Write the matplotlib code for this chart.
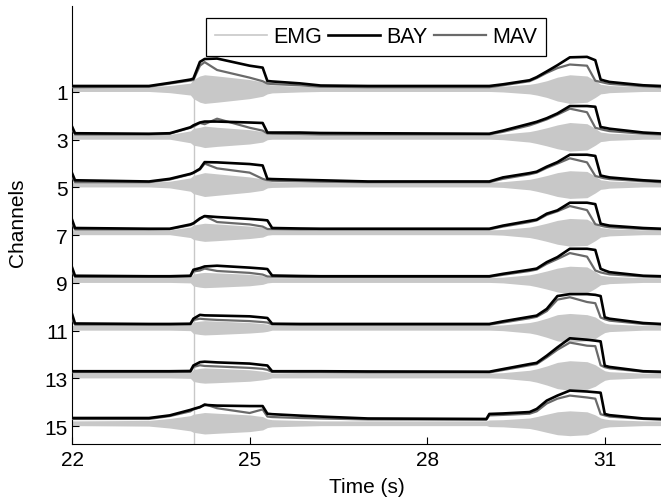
import matplotlib
matplotlib.use("Agg")
import matplotlib.pyplot as plt
from matplotlib.lines import Line2D

plt.rcParams["font.family"] = ["Liberation Sans", "DejaVu Sans"]

channels = [1, 3, 5, 7, 9, 11, 13, 15]
x_ticks = [22, 25, 28, 31]

# shared time points (s) the envelopes were read at
t_key = [22.00, 22.05, 23.30, 23.65, 24.00, 24.05, 24.16, 24.24, 24.45, 25.00,
         25.22, 25.30, 25.38, 25.85, 26.20, 27.00, 29.00, 29.05, 29.28, 29.73,
         29.85, 30.02, 30.20, 30.41, 30.70, 30.84, 30.93, 31.00, 31.08, 31.65, 31.95]

# BAY envelope, one list per channel (in channel-spacing units)
bay_1 = [0.25, 0.25, 0.25, 0.38, 0.52, 0.56, 1.26, 1.38, 1.40, 1.10, 1.02, 0.46, 0.44, 0.36, 0.27, 0.25,
         0.25, 0.25, 0.32, 0.49, 0.62, 0.86, 1.12, 1.45, 1.47, 1.33, 0.52, 0.47, 0.42, 0.28, 0.25]
bay_3 = [0.55, 0.27, 0.25, 0.27, 0.52, 0.60, 0.72, 0.76, 0.76, 0.72, 0.70, 0.30, 0.30, 0.30, 0.28, 0.27,
         0.25, 0.25, 0.38, 0.67, 0.75, 0.90, 1.10, 1.41, 1.41, 1.38, 0.53, 0.50, 0.46, 0.30, 0.26]
bay_5 = [0.60, 0.30, 0.25, 0.36, 0.57, 0.62, 0.78, 1.06, 1.05, 0.98, 0.92, 0.36, 0.35, 0.32, 0.30, 0.25,
         0.25, 0.25, 0.42, 0.60, 0.66, 0.87, 1.06, 1.37, 1.37, 1.32, 0.50, 0.46, 0.42, 0.30, 0.26]
bay_7 = [0.65, 0.30, 0.27, 0.27, 0.45, 0.50, 0.70, 0.80, 0.76, 0.68, 0.64, 0.62, 0.30, 0.28, 0.27, 0.27,
         0.27, 0.27, 0.40, 0.60, 0.65, 0.90, 1.04, 1.36, 1.36, 1.30, 0.48, 0.44, 0.40, 0.30, 0.27]
bay_9 = [0.65, 0.30, 0.28, 0.28, 0.30, 0.55, 0.62, 0.69, 0.72, 0.64, 0.60, 0.58, 0.31, 0.29, 0.28, 0.28,
         0.28, 0.28, 0.38, 0.55, 0.60, 0.87, 1.08, 1.43, 1.43, 1.38, 0.59, 0.52, 0.45, 0.30, 0.28]
bay_11 = [0.70, 0.30, 0.28, 0.28, 0.29, 0.50, 0.66, 0.64, 0.63, 0.60, 0.55, 0.53, 0.29, 0.28, 0.28, 0.28,
          0.28, 0.28, 0.39, 0.58, 0.63, 0.91, 1.45, 1.53, 1.53, 1.50, 1.45, 0.56, 0.50, 0.32, 0.28]
bay_13 = [0.30, 0.30, 0.30, 0.30, 0.31, 0.54, 0.68, 0.70, 0.67, 0.62, 0.56, 0.54, 0.30, 0.30, 0.30, 0.29,
          0.28, 0.28, 0.39, 0.60, 0.65, 0.95, 1.30, 1.68, 1.62, 1.58, 1.55, 0.53, 0.48, 0.30, 0.28]
bay_15 = [0.34, 0.34, 0.34, 0.45, 0.68, 0.72, 0.80, 0.89, 0.86, 0.84, 0.84, 0.52, 0.50, 0.44, 0.40, 0.32,
          0.30, 0.51, 0.53, 0.59, 0.72, 1.07, 1.28, 1.49, 1.45, 1.42, 1.40, 0.51, 0.46, 0.32, 0.30]

# MAV envelope
mav_1 = [0.20, 0.20, 0.22, 0.35, 0.48, 0.50, 1.10, 1.25, 0.92, 0.60, 0.45, 0.35, 0.33, 0.28, 0.22, 0.20,
         0.20, 0.20, 0.28, 0.45, 0.58, 0.80, 1.00, 1.15, 1.10, 0.47, 0.42, 0.38, 0.34, 0.24, 0.20]
mav_3 = [0.45, 0.22, 0.22, 0.25, 0.50, 0.55, 0.70, 0.65, 0.88, 0.50, 0.38, 0.26, 0.25, 0.24, 0.22, 0.22,
         0.22, 0.22, 0.33, 0.60, 0.70, 0.85, 1.05, 1.30, 1.15, 0.50, 0.44, 0.40, 0.36, 0.25, 0.22]
mav_5 = [0.45, 0.22, 0.22, 0.33, 0.55, 0.60, 0.75, 1.00, 0.80, 0.62, 0.36, 0.30, 0.28, 0.26, 0.24, 0.22,
         0.22, 0.22, 0.36, 0.55, 0.62, 0.82, 1.00, 1.22, 1.05, 0.48, 0.42, 0.38, 0.35, 0.26, 0.22]
mav_7 = [0.50, 0.24, 0.24, 0.25, 0.42, 0.48, 0.68, 0.80, 0.55, 0.45, 0.36, 0.26, 0.25, 0.24, 0.24, 0.24,
         0.24, 0.24, 0.36, 0.55, 0.62, 0.85, 1.00, 1.22, 1.05, 0.46, 0.40, 0.36, 0.33, 0.26, 0.24]
mav_9 = [0.50, 0.25, 0.25, 0.25, 0.27, 0.48, 0.52, 0.60, 0.50, 0.42, 0.35, 0.27, 0.26, 0.25, 0.25, 0.25,
         0.25, 0.25, 0.34, 0.50, 0.56, 0.80, 1.00, 1.25, 1.10, 0.52, 0.44, 0.40, 0.36, 0.27, 0.25]
mav_11 = [0.50, 0.25, 0.25, 0.25, 0.26, 0.45, 0.50, 0.48, 0.45, 0.40, 0.36, 0.34, 0.26, 0.25, 0.25, 0.25,
          0.25, 0.25, 0.34, 0.52, 0.58, 0.82, 1.30, 1.40, 1.20, 1.15, 0.55, 0.48, 0.42, 0.28, 0.25]
mav_13 = [0.26, 0.26, 0.26, 0.26, 0.27, 0.48, 0.55, 0.52, 0.50, 0.44, 0.40, 0.36, 0.27, 0.26, 0.26, 0.25,
          0.25, 0.25, 0.35, 0.55, 0.60, 0.88, 1.20, 1.50, 1.37, 1.35, 0.55, 0.47, 0.42, 0.28, 0.25]
mav_15 = [0.30, 0.30, 0.30, 0.42, 0.62, 0.70, 0.78, 0.92, 0.75, 0.55, 0.70, 0.40, 0.38, 0.34, 0.32, 0.28,
          0.27, 0.45, 0.47, 0.52, 0.62, 0.95, 1.15, 1.28, 1.20, 1.15, 0.50, 0.45, 0.40, 0.30, 0.27]

# raw EMG amplitude (half-width of the grey band)
emg_1 = [0.10, 0.10, 0.10, 0.15, 0.25, 0.40, 0.55, 0.60, 0.55, 0.40, 0.30, 0.20, 0.16, 0.12, 0.10, 0.10,
         0.10, 0.10, 0.12, 0.20, 0.25, 0.35, 0.50, 0.60, 0.55, 0.35, 0.20, 0.18, 0.15, 0.10, 0.10]
emg_3 = [0.10, 0.10, 0.10, 0.10, 0.25, 0.35, 0.40, 0.45, 0.40, 0.30, 0.22, 0.12, 0.10, 0.10, 0.10, 0.10,
         0.10, 0.10, 0.12, 0.22, 0.28, 0.38, 0.50, 0.60, 0.55, 0.35, 0.20, 0.18, 0.15, 0.10, 0.10]
emg_5 = [0.10, 0.10, 0.10, 0.14, 0.28, 0.38, 0.45, 0.50, 0.45, 0.32, 0.24, 0.14, 0.12, 0.10, 0.10, 0.10,
         0.10, 0.10, 0.12, 0.22, 0.28, 0.38, 0.50, 0.58, 0.55, 0.35, 0.20, 0.18, 0.15, 0.10, 0.10]
emg_7 = [0.10, 0.10, 0.10, 0.10, 0.22, 0.30, 0.35, 0.38, 0.35, 0.26, 0.20, 0.12, 0.10, 0.10, 0.10, 0.10,
         0.10, 0.10, 0.12, 0.22, 0.28, 0.38, 0.50, 0.58, 0.55, 0.35, 0.20, 0.18, 0.15, 0.10, 0.10]
emg_9 = [0.10, 0.10, 0.10, 0.10, 0.12, 0.25, 0.30, 0.32, 0.30, 0.24, 0.18, 0.12, 0.10, 0.10, 0.10, 0.10,
         0.10, 0.10, 0.12, 0.22, 0.28, 0.38, 0.50, 0.58, 0.55, 0.35, 0.20, 0.18, 0.15, 0.10, 0.10]
emg_11 = [0.10, 0.10, 0.10, 0.10, 0.12, 0.24, 0.28, 0.30, 0.28, 0.22, 0.18, 0.15, 0.10, 0.10, 0.10, 0.10,
          0.10, 0.10, 0.12, 0.22, 0.28, 0.40, 0.55, 0.60, 0.55, 0.45, 0.30, 0.20, 0.16, 0.10, 0.10]
emg_13 = [0.10, 0.10, 0.10, 0.10, 0.12, 0.25, 0.30, 0.32, 0.30, 0.24, 0.18, 0.15, 0.10, 0.10, 0.10, 0.10,
          0.10, 0.10, 0.12, 0.22, 0.28, 0.40, 0.55, 0.62, 0.58, 0.45, 0.30, 0.20, 0.16, 0.10, 0.10]
emg_15 = [0.10, 0.10, 0.12, 0.20, 0.32, 0.38, 0.42, 0.45, 0.42, 0.35, 0.28, 0.18, 0.15, 0.12, 0.10, 0.10,
          0.10, 0.14, 0.15, 0.22, 0.28, 0.38, 0.48, 0.52, 0.48, 0.35, 0.22, 0.18, 0.15, 0.10, 0.10]

bay = [bay_1, bay_3, bay_5, bay_7, bay_9, bay_11, bay_13, bay_15]
mav = [mav_1, mav_3, mav_5, mav_7, mav_9, mav_11, mav_13, mav_15]
emg = [emg_1, emg_3, emg_5, emg_7, emg_9, emg_11, emg_13, emg_15]

marker_time = 24.06
emg_center = 0.12   # raw signal sits a bit above the tick

emg_color = "#c8c8c8"
mav_color = "#6a6a6a"

fig = plt.figure(figsize=(6.61, 5.02), dpi=100)
ax = fig.add_axes([0.109, 0.1135, 0.891, 0.8725])

for ch, b, m, e in zip(channels, bay, mav, emg):
    mid = ch - emg_center
    ax.fill_between(t_key, [mid + a for a in e], [mid - a for a in e],
                    color=emg_color, lw=0, zorder=1)
    ax.plot(t_key, [ch - v for v in m], color=mav_color, lw=1.6, zorder=3)
    ax.plot(t_key, [ch - v for v in b], color="black", lw=1.9, zorder=4)

ax.vlines(marker_time, channels[0] + 0.1, 15.75, color=emg_color, lw=1, zorder=2)

ax.set_xlim(22, 31.95)
ax.set_ylim(15.75, -2.6)
ax.set_xticks(x_ticks)
ax.set_yticks(channels)
ax.spines["top"].set_visible(False)
ax.spines["right"].set_visible(False)
ax.spines["left"].set_linewidth(0.8)
ax.spines["bottom"].set_linewidth(0.8)
ax.tick_params(direction="in", length=5, width=0.8, labelsize=15)
ax.tick_params(axis="x", pad=4)
ax.tick_params(axis="y", pad=3)

ax.set_xlabel("Time (s)", fontsize=15, labelpad=6)
ax.set_ylabel("Channels", fontsize=15)
ax.yaxis.set_label_coords(-0.076, 0.507)

handles = [Line2D([], [], color=emg_color, lw=1.2),
           Line2D([], [], color="black", lw=1.9),
           Line2D([], [], color=mav_color, lw=1.6)]
leg = ax.legend(handles, ["EMG", "BAY", "MAV"], ncol=3, loc="upper center",
                bbox_to_anchor=(0.5165, 0.998), fontsize=15.5, fancybox=False,
                framealpha=1, edgecolor="black", handlelength=2.4,
                handletextpad=0.3, columnspacing=0.3, borderpad=0.4)
leg.get_frame().set_linewidth(0.9)

fig.savefig("out.png", dpi=100)
